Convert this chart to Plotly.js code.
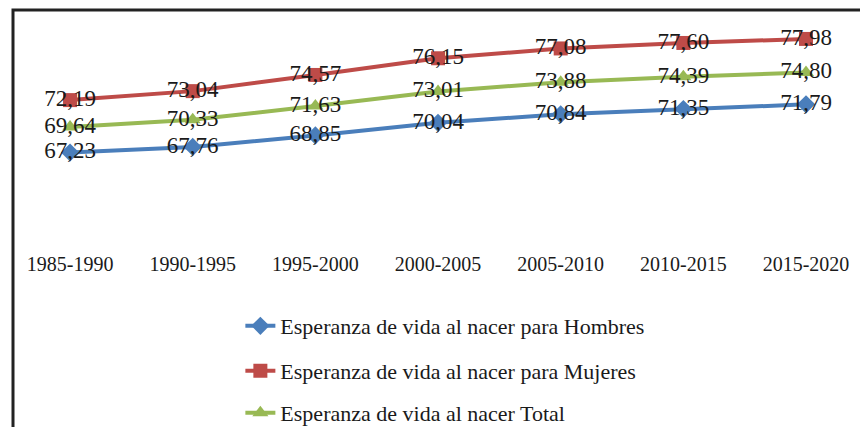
<!DOCTYPE html>
<html>
<head>
<meta charset="utf-8">
<script src="https://cdn.plot.ly/plotly-3.0.1.min.js"></script>
<style>html,body{margin:0;padding:0;background:#fff;}#chart{width:860px;height:427px;}</style>
</head>
<body>
<div id="chart"></div>
<script>
const categories = ['1985-1990','1990-1995','1995-2000','2000-2005','2005-2010','2010-2015','2015-2020'];
const hombres = [67.23, 67.76, 68.85, 70.04, 70.84, 71.35, 71.79];
const mujeres = [72.19, 73.04, 74.57, 76.15, 77.08, 77.60, 77.98];
const total = [69.64, 70.33, 71.63, 73.01, 73.88, 74.39, 74.80];
const seriesNames = [
  'Esperanza de vida al nacer para Hombres',
  'Esperanza de vida al nacer para Mujeres',
  'Esperanza de vida al nacer Total'
];

const fmt = v => v.toFixed(2).replace('.', ',');
const FONT = '"Liberation Serif", "Times New Roman", serif';

function mk(y, name, color, symbol, size, legend) {
  return {
    type: 'scatter', mode: 'lines+markers+text',
    x: categories, y: y, name: name,
    text: y.map(fmt), textposition: 'middle center',
    textfont: {family: FONT, size: 23, color: '#1a1a1a'},
    line: {color: color, width: 4},
    marker: {color: color, symbol: symbol, size: size},
    cliponaxis: false, legend: legend
  };
}

const data = [
  mk(hombres, seriesNames[0], '#4a7ebb', 'diamond', 14, 'legend'),
  mk(mujeres, seriesNames[1], '#be4b48', 'square', 14, 'legend2'),
  mk(total, seriesNames[2], '#98b954', 'triangle-up', 14, 'legend3')
];

const legBase = {xref: 'container', yref: 'container', x: 0.2795, xanchor: 'left', yanchor: 'middle',
  font: {family: FONT, size: 22, color: '#1a1a1a'}, bgcolor: 'rgba(0,0,0,0)'};

const layout = {
  width: 860, height: 427,
  margin: {l: 20, r: 20, t: 10, b: 177, autoexpand: false},
  paper_bgcolor: '#ffffff', plot_bgcolor: '#ffffff',
  showlegend: true,
  xaxis: {type: 'category', range: [-0.408, 6.277], showgrid: false, zeroline: false, showline: false,
    ticks: '', tickangle: 0, automargin: false, tickfont: {family: FONT, size: 20, color: '#1a1a1a'}},
  yaxis: {range: [58.0, 80.72], visible: false, showgrid: false, zeroline: false},
  legend: Object.assign({}, legBase, {y: 1 - 326/427}),
  legend2: Object.assign({}, legBase, {y: 1 - 371/427}),
  legend3: Object.assign({}, legBase, {y: 1 - 413/427}),
  shapes: [{
    type: 'path', xref: 'paper', yref: 'paper',
    path: 'M ' + ((13-20)/820) + ' ' + ((250-440)/240) + ' L ' + ((13-20)/820) + ' ' + ((250-10)/240) +
          ' L ' + ((875-20)/820) + ' ' + ((250-10)/240),
    line: {color: '#222222', width: 3}
  }]
};

Plotly.newPlot('chart', data, layout, {displayModeBar: false, staticPlot: true});
</script>
</body>
</html>
